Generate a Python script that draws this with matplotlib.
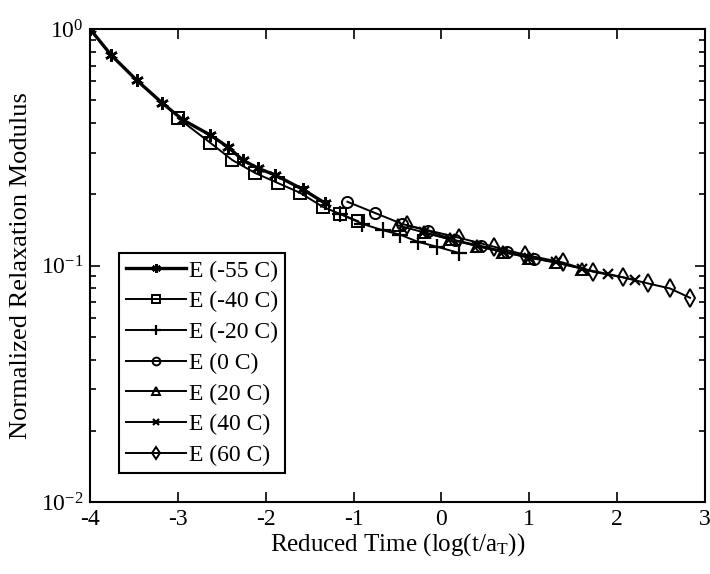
import matplotlib
matplotlib.use('Agg')
import matplotlib.pyplot as plt
from matplotlib.ticker import LogLocator, NullFormatter

plt.rcParams['font.family'] = 'Liberation Serif'
plt.rcParams['mathtext.fontset'] = 'custom'
plt.rcParams['mathtext.rm'] = 'Liberation Serif'
plt.rcParams['mathtext.it'] = 'Liberation Serif'
plt.rcParams['axes.unicode_minus'] = False

# values (reduced time, normalized modulus)
x_m55 = [-4.0, -3.76, -3.47, -3.18, -2.94, -2.63, -2.43, -2.26, -2.09, -1.89, -1.58, -1.33]
y_m55 = [1.0, 0.776, 0.608, 0.487, 0.412, 0.356, 0.317, 0.279, 0.258, 0.241, 0.210, 0.184]

x_m40 = [-3.0, -2.63, -2.38, -2.12, -1.86, -1.61, -1.35, -1.15, -0.95]
y_m40 = [0.42, 0.33, 0.279, 0.246, 0.223, 0.203, 0.177, 0.165, 0.154]

x_m20 = [-1.15, -0.9, -0.67, -0.47, -0.27, -0.05, 0.2]
y_m20 = [0.165, 0.150, 0.141, 0.135, 0.126, 0.120, 0.113]

x_0 = [-1.07, -0.76, -0.45, -0.15, 0.15, 0.45, 0.75, 1.05]
y_0 = [0.186, 0.167, 0.150, 0.140, 0.128, 0.121, 0.114, 0.107]

x_20 = [-0.5, -0.2, 0.1, 0.4, 0.7, 1.0, 1.3, 1.6]
y_20 = [0.148, 0.138, 0.129, 0.121, 0.114, 0.108, 0.103, 0.097]

x_40 = [-0.2, 0.1, 0.4, 0.7, 1.0, 1.3, 1.6, 1.9, 2.2]
y_40 = [0.138, 0.129, 0.121, 0.114, 0.108, 0.103, 0.097, 0.092, 0.087]

x_60 = [-0.39, 0.2, 0.6, 0.95, 1.38, 1.73, 2.07, 2.35, 2.6, 2.83]
y_60 = [0.148, 0.131, 0.120, 0.111, 0.103, 0.094, 0.089, 0.084, 0.080, 0.073]

labels = ['E (-55 C)', 'E (-40 C)', 'E (-20 C)', 'E (0 C)', 'E (20 C)', 'E (40 C)', 'E (60 C)']

fig = plt.figure(figsize=(7.1, 5.74), dpi=100)
ax = fig.add_axes([0.1268, 0.1254, 0.8662, 0.8241])

ast = (6, 2, 0)
ax.plot(x_m55, y_m55, color='k', lw=2.4, marker=ast, ms=9, mew=1.8, label=labels[0])
ax.plot(x_m40, y_m40, color='k', lw=1.4, marker='s', ms=9, mfc='none', mew=1.4, label=labels[1])
ax.plot(x_m20, y_m20, color='k', lw=1.4, marker='+', ms=11, mew=1.6, label=labels[2])
ax.plot(x_0, y_0, color='k', lw=1.4, marker='o', ms=8, mfc='none', mew=1.4, label=labels[3])
ax.plot(x_20, y_20, color='k', lw=1.4, marker='^', ms=8, mfc='none', mew=1.4, label=labels[4])
ax.plot(x_40, y_40, color='k', lw=1.4, marker='x', ms=7, mew=1.6, label=labels[5])
ax.plot(x_60, y_60, color='k', lw=1.4, marker='d', ms=9, mfc='none', mew=1.4, label=labels[6])

ax.set_yscale('log')
ax.set_xlim(-4, 3)
ax.set_ylim(0.01, 1)
ax.set_xticks(range(-4, 4))
ax.yaxis.set_minor_locator(LogLocator(base=10, subs=range(2, 10)))
ax.yaxis.set_minor_formatter(NullFormatter())

ax.tick_params(which='both', direction='in', top=True, right=True, labelsize=17, width=1.2)
ax.tick_params(which='major', length=7, pad=5)
ax.tick_params(which='minor', length=4)
for s in ax.spines.values():
    s.set_linewidth(1.5)

ax.set_xlabel('Reduced Time (log(t/a$_\\mathdefault{T}$))', fontsize=18, labelpad=1)
ax.set_ylabel('Normalized Relaxation Modulus', fontsize=19, labelpad=6)

leg = ax.legend(loc='lower left', bbox_to_anchor=(0.047, 0.061), borderaxespad=0,
                fontsize=17, handlelength=2.55, handletextpad=0.1, labelspacing=0.39,
                fancybox=False, edgecolor='k', framealpha=1, borderpad=0.3,
                markerscale=0.7)
leg.get_frame().set_linewidth(1.5)

fig.savefig('out.png', dpi=100)
